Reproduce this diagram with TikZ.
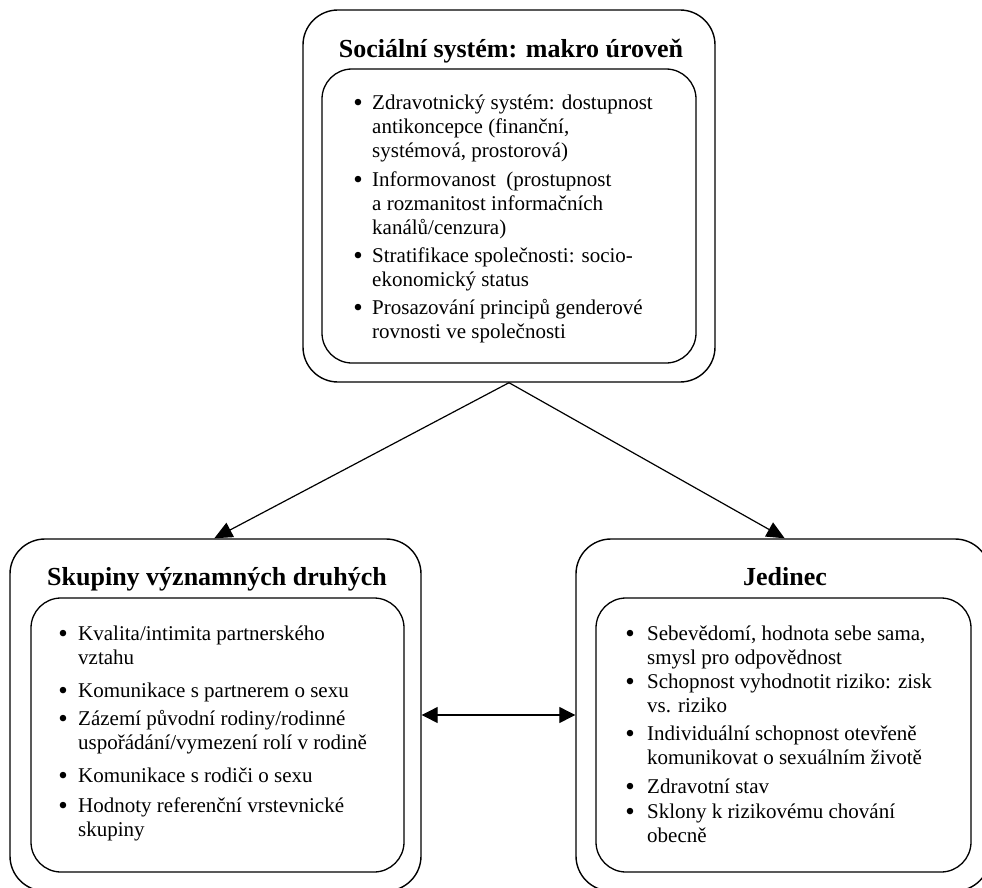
\documentclass[tikz,border=0pt]{standalone}
\usepackage{fontspec}
\setmainfont{Liberation Serif}
\usetikzlibrary{arrows.meta}
\newcommand\mylines[1]{\begin{tabular}[t]{@{}l@{}}#1\end{tabular}}
\begin{document}
\begin{tikzpicture}[x=1pt,y=-1pt,
  outerbox/.style={draw=black, line width=1.4pt, rounded corners=35pt, inner sep=0pt},
  innerbox/.style={draw=black, line width=1.3pt, rounded corners=30pt, inner sep=0pt},
  titletext/.style={anchor=base, inner sep=0pt, font=\fontsize{26}{30}\selectfont\bfseries},
  itemtext/.style={anchor=base west, inner sep=0pt, font=\fontsize{21}{24}\selectfont},
  bul/.style={anchor=base, inner sep=0pt, yshift=-2pt, font=\fontsize{27}{27}\selectfont},
  conn/.style={draw=black, line width=1.2pt, -{Triangle[length=18pt,width=16pt]}},
  dconn/.style={draw=black, line width=1.2pt, {Triangle[length=16pt,width=16pt]}-{Triangle[length=16pt,width=16pt]}}
]
\useasboundingbox (0,0) rectangle (982,888);

% top box
\node[outerbox, minimum width=412pt, minimum height=372pt] (top) at (509,196) {};
\node[innerbox, minimum width=374pt, minimum height=294pt] (topin) at (509,216) {};
\node[titletext] (toptitle) at (511,58) {Sociální systém: makro úroveň};
\node[bul] (tb1) at (358,110) {•};
\node[itemtext] (ti1) at (372,110) {\mylines{Zdravotnický systém: dostupnost\\antikoncepce (finanční,\\systémová, prostorová)}};
\node[bul] (tb2) at (358,186) {•};
\node[itemtext] (ti2) at (372,186) {\mylines{Informovanost\ \ (prostupnost\\a rozmanitost informačních\\kanálů/cenzura)}};
\node[bul] (tb3) at (358,262) {•};
\node[itemtext] (ti3) at (372,262) {\mylines{Stratifikace společnosti: socio-\\ekonomický status}};
\node[bul] (tb4) at (358,314) {•};
\node[itemtext] (ti4) at (372,314) {\mylines{Prosazování principů genderové\\rovnosti ve společnosti}};

% left box
\node[outerbox, minimum width=411pt, minimum height=352pt] (left) at (215.5,715) {};
\node[innerbox, minimum width=373pt, minimum height=274pt] (leftin) at (217.5,735) {};
\node[titletext] (lefttitle) at (217,585) {Skupiny významných druhých};
\node[bul] (lb1) at (63,640) {•};
\node[itemtext] (li1) at (78,640) {\mylines{Kvalita/intimita partnerského\\vztahu}};
\node[bul] (lb2) at (63,697) {•};
\node[itemtext] (li2) at (78,697) {Komunikace s partnerem o sexu};
\node[bul] (lb3) at (63,725) {•};
\node[itemtext] (li3) at (78,725) {\mylines{Zázemí původní rodiny/rodinné\\uspořádání/vymezení rolí v rodině}};
\node[bul] (lb4) at (63,782) {•};
\node[itemtext] (li4) at (78,782) {Komunikace s rodiči o sexu};
\node[bul] (lb5) at (63,812) {•};
\node[itemtext] (li5) at (78,812) {\mylines{Hodnoty referenční vrstevnické\\skupiny}};

% right box
\node[outerbox, minimum width=414pt, minimum height=352pt] (right) at (783,715) {};
\node[innerbox, minimum width=375pt, minimum height=274pt] (rightin) at (783.5,735) {};
\node[titletext] (righttitle) at (785,585) {Jedinec};
\node[bul] (rb1) at (630,640) {•};
\node[itemtext] (ri1) at (647,640) {\mylines{Sebevědomí, hodnota sebe sama,\\smysl pro odpovědnost}};
\node[bul] (rb2) at (630,688) {•};
\node[itemtext] (ri2) at (647,688) {\mylines{Schopnost vyhodnotit riziko: zisk\\vs. riziko}};
\node[bul] (rb3) at (630,740) {•};
\node[itemtext] (ri3) at (647,740) {\mylines{Individuální schopnost otevřeně\\komunikovat o sexuálním životě}};
\node[bul] (rb4) at (630,793) {•};
\node[itemtext] (ri4) at (647,793) {Zdravotní stav};
\node[bul] (rb5) at (630,818) {•};
\node[itemtext] (ri5) at (647,818) {\mylines{Sklony k rizikovému chování\\obecně}};

% connectors
\draw[conn] (top.south) -- ([xshift=205pt]left.north west);
\draw[conn] (top.south) -- ([xshift=-206pt]right.north east);
\draw[dconn] (left.east) -- (right.west);
\end{tikzpicture}
\end{document}
